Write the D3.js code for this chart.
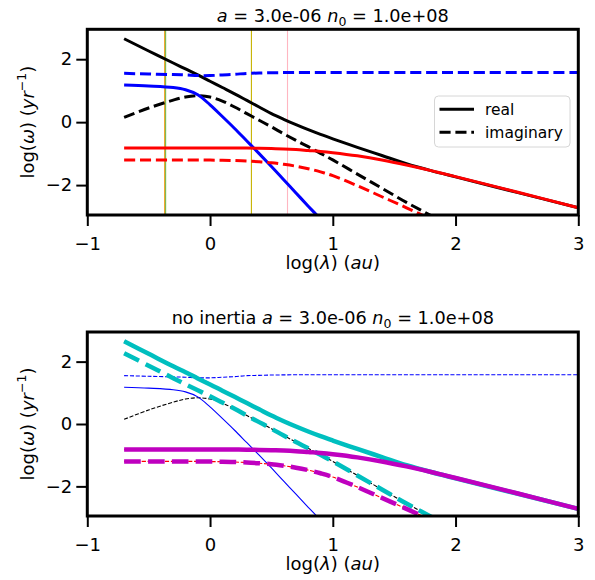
<!DOCTYPE html>
<html>
<head>
<meta charset="utf-8">
<script src="https://cdn.jsdelivr.net/npm/d3@7"></script>
<style>
  html, body { margin: 0; padding: 0; background: #fff; }
  svg { display: block; font-family: "DejaVu Sans", sans-serif; }
</style>
</head>
<body>
<svg id="chart" width="595" height="580"></svg>
<script>
// ---------------- data ----------------
const logLambda = [-0.7,-0.5,-0.3,-0.2,-0.1,0,0.1,0.2,0.3,0.4,0.5,0.6,0.7,0.8,0.9,1.0,1.2,1.4,1.6,1.8,2.0,2.5,3.0];

const realBlack = [2.65,2.26,1.88,1.69,1.5,1.3,1.1,0.9,0.69,0.48,0.27,0.09,-0.08,-0.24,-0.39,-0.53,-0.8,-1.06,-1.32,-1.54,-1.74,-2.23,-2.72];
const imagBlack = [0.15,0.45,0.7,0.8,0.84,0.8,0.67,0.48,0.27,0.06,-0.15,-0.37,-0.58,-0.78,-0.99,-1.2,-1.65,-2.1,-2.55,-2.97,-3.4,-4.45,-5.5];
const realBlue  = [1.18,1.15,1.1,1.03,0.87,0.55,0.18,-0.2,-0.6,-1.0,-1.41,-1.83,-2.25,-2.67,-3.08,-3.5,-4.3,-5.1,-5.9,-6.7,-7.5,-9.5,-11.5];
const imagBlue  = [1.55,1.53,1.51,1.5,1.48,1.48,1.5,1.52,1.55,1.56,1.57,1.575,1.58,1.58,1.58,1.58,1.58,1.58,1.58,1.58,1.58,1.58,1.58];
const realRed   = [-0.82,-0.82,-0.82,-0.82,-0.82,-0.82,-0.82,-0.82,-0.825,-0.83,-0.84,-0.85,-0.87,-0.9,-0.93,-0.97,-1.07,-1.2,-1.36,-1.54,-1.73,-2.22,-2.72];
const imagRed   = [-1.2,-1.2,-1.2,-1.2,-1.2,-1.205,-1.21,-1.22,-1.235,-1.26,-1.29,-1.34,-1.4,-1.48,-1.58,-1.7,-2.02,-2.37,-2.72,-3.08,-3.45,-4.4,-5.35];

// "no inertia" approximations
const realCyan    = [2.65,2.25,1.85,1.66,1.46,1.27,1.07,0.87,0.67,0.47,0.27,0.09,-0.08,-0.24,-0.39,-0.53,-0.8,-1.06,-1.32,-1.54,-1.74,-2.23,-2.72];
const imagCyan    = [2.27,1.87,1.47,1.27,1.08,0.89,0.69,0.49,0.27,0.06,-0.15,-0.37,-0.58,-0.78,-0.99,-1.2,-1.65,-2.1,-2.55,-2.97,-3.4,-4.45,-5.5];
const realMagenta = [-0.82,-0.82,-0.82,-0.82,-0.82,-0.82,-0.82,-0.82,-0.825,-0.83,-0.84,-0.85,-0.87,-0.9,-0.93,-0.97,-1.07,-1.2,-1.36,-1.54,-1.73,-2.22,-2.72];
const imagMagenta = [-1.2,-1.2,-1.2,-1.2,-1.2,-1.205,-1.21,-1.22,-1.235,-1.26,-1.29,-1.34,-1.4,-1.48,-1.58,-1.7,-2.02,-2.37,-2.72,-3.08,-3.45,-4.4,-5.35];

// vertical markers (top panel), log(lambda)
const vlinePos    = [-0.37, -0.362, 0.337, 0.631];
const vlineColors = ["#f0a020", "#7ab648", "#c8b400", "#ffb6c1"];

const xTicks = [-1, 0, 1, 2, 3];
const yTicks = [-2, 0, 2];
const xDomain = [-1, 3];
const yDomain = [-2.95, 2.95];
const legendLabels = ["real", "imaginary"];

// ---------------- drawing ----------------
const svg = d3.select("#chart");
const X0 = 87.3, X1 = 578.3;
const panels = [
  { top: 29.3, bottom: 215 },
  { top: 332, bottom: 516 }
];
const TICK_FS = "18px", LABEL_FS = "18px", TITLE_FS = "17.7px", LEGEND_FS = "15.5px";

const x = d3.scaleLinear().domain(xDomain).range([X0, X1]);

function dashFor(lw) { return (3.7 * lw) + "," + (1.6 * lw); }

function drawPanel(p, idx) {
  const y = d3.scaleLinear().domain(yDomain).range([p.bottom, p.top]);
  const g = svg.append("g");
  const clipId = "clip" + idx;
  svg.append("defs").append("clipPath").attr("id", clipId)
    .append("rect").attr("x", X0).attr("y", p.top)
    .attr("width", X1 - X0).attr("height", p.bottom - p.top);

  const plot = g.append("g").attr("clip-path", "url(#" + clipId + ")");
  const line = d3.line().x(d => x(d[0])).y(d => y(d[1])).curve(d3.curveCatmullRom.alpha(0.5));
  function series(vals, color, lw, dashed) {
    plot.append("path")
      .datum(logLambda.map((v, i) => [v, vals[i]]))
      .attr("d", line)
      .attr("fill", "none")
      .attr("stroke", color)
      .attr("stroke-width", lw)
      .attr("stroke-dasharray", dashed ? dashFor(lw) : null)
      .attr("stroke-linejoin", "round");
  }

  if (idx === 0) {
    vlinePos.forEach((v, i) => {
      plot.append("line")
        .attr("x1", x(v)).attr("x2", x(v))
        .attr("y1", p.top).attr("y2", p.bottom)
        .attr("stroke", vlineColors[i]).attr("stroke-width", 1.1);
    });
    const lw = 3;
    series(realBlack, "#000", lw, false);
    series(imagBlack, "#000", lw, true);
    series(realBlue, "#0000ff", lw, false);
    series(imagBlue, "#0000ff", lw, true);
    series(realRed, "#ff0000", lw, false);
    series(imagRed, "#ff0000", lw, true);
  } else {
    const lw = 1.1;
    series(realBlack, "#000", lw, false);
    series(imagBlack, "#000", lw, true);
    series(realBlue, "#0000ff", lw, false);
    series(imagBlue, "#0000ff", lw, true);
    series(realRed, "#ff0000", lw, false);
    series(imagRed, "#ff0000", lw, true);
    const tw = 4.5;
    series(realCyan, "#00bfbf", tw, false);
    series(imagCyan, "#00bfbf", tw, true);
    series(realMagenta, "#bf00bf", tw, false);
    series(imagMagenta, "#bf00bf", tw, true);
  }

  // axes
  const fmt = d => d < 0 ? "\u2212" + Math.abs(d) : d;
  const xAxis = d3.axisBottom(x).tickValues(xTicks).tickSize(11).tickPadding(11).tickFormat(fmt);
  const yAxis = d3.axisLeft(y).tickValues(yTicks).tickSize(11).tickPadding(4).tickFormat(fmt);
  const gx = g.append("g").attr("transform", "translate(0," + p.bottom + ")").call(xAxis);
  const gy = g.append("g").attr("transform", "translate(" + X0 + ",0)").call(yAxis);
  [gx, gy].forEach(a => {
    a.select(".domain").remove();
    a.selectAll(".tick line").attr("stroke", "#000").attr("stroke-width", 2);
    a.selectAll(".tick text").attr("fill", "#000").style("font-size", TICK_FS)
      .style("font-family", "DejaVu Sans, sans-serif");
  });

  // spines
  g.append("rect").attr("x", X0).attr("y", p.top)
    .attr("width", X1 - X0).attr("height", p.bottom - p.top)
    .attr("fill", "none").attr("stroke", "#000").attr("stroke-width", 3);

  // title
  const cx = (X0 + X1) / 2;
  const t = g.append("text").attr("x", cx).attr("y", p.top - 7.8)
    .attr("text-anchor", "middle").style("font-size", TITLE_FS);
  if (idx === 1) t.append("tspan").text("no inertia ");
  t.append("tspan").attr("font-style", "italic").text("a");
  t.append("tspan").text(" = 3.0e-06 ");
  t.append("tspan").attr("font-style", "italic").text("n");
  t.append("tspan").attr("dy", 4).style("font-size", "12.5px").text("0");
  t.append("tspan").attr("dy", -4).text(" = 1.0e+08");

  // x label
  const xl = g.append("text").attr("x", cx).attr("y", p.bottom + 54.3)
    .attr("text-anchor", "middle").style("font-size", LABEL_FS);
  xl.append("tspan").text("log(");
  xl.append("tspan").attr("font-style", "italic").text("\u03bb");
  xl.append("tspan").text(") (");
  xl.append("tspan").attr("font-style", "italic").text("au");
  xl.append("tspan").text(")");

  // y label
  const cy = (p.top + p.bottom) / 2;
  const yl = g.append("text")
    .attr("transform", "translate(33.5," + cy + ") rotate(-90)")
    .attr("text-anchor", "middle").style("font-size", LABEL_FS);
  yl.append("tspan").text("log(");
  yl.append("tspan").attr("font-style", "italic").text("\u03c9");
  yl.append("tspan").text(") (");
  yl.append("tspan").attr("font-style", "italic").text("yr");
  yl.append("tspan").attr("dy", -7.5).style("font-size", "12.5px").text("\u22121");
  yl.append("tspan").attr("dy", 7.5).text(")");

  if (idx === 0) {
    const lg = g.append("g");
    lg.append("rect").attr("x", 434.5).attr("y", 96).attr("width", 135.5).attr("height", 51)
      .attr("rx", 4).attr("fill", "#fff").attr("fill-opacity", 0.8)
      .attr("stroke", "#d6d6d6").attr("stroke-width", 1);
    legendLabels.forEach((lab, i) => {
      const ly = 109.3 + i * 23;
      lg.append("line").attr("x1", 439.5).attr("x2", 474).attr("y1", ly).attr("y2", ly)
        .attr("stroke", "#000").attr("stroke-width", 3)
        .attr("stroke-dasharray", i === 1 ? dashFor(3) : null);
      lg.append("text").attr("x", 485).attr("y", ly + 5.8).style("font-size", LEGEND_FS).text(lab);
    });
  }
}

panels.forEach(drawPanel);
</script>
</body>
</html>
